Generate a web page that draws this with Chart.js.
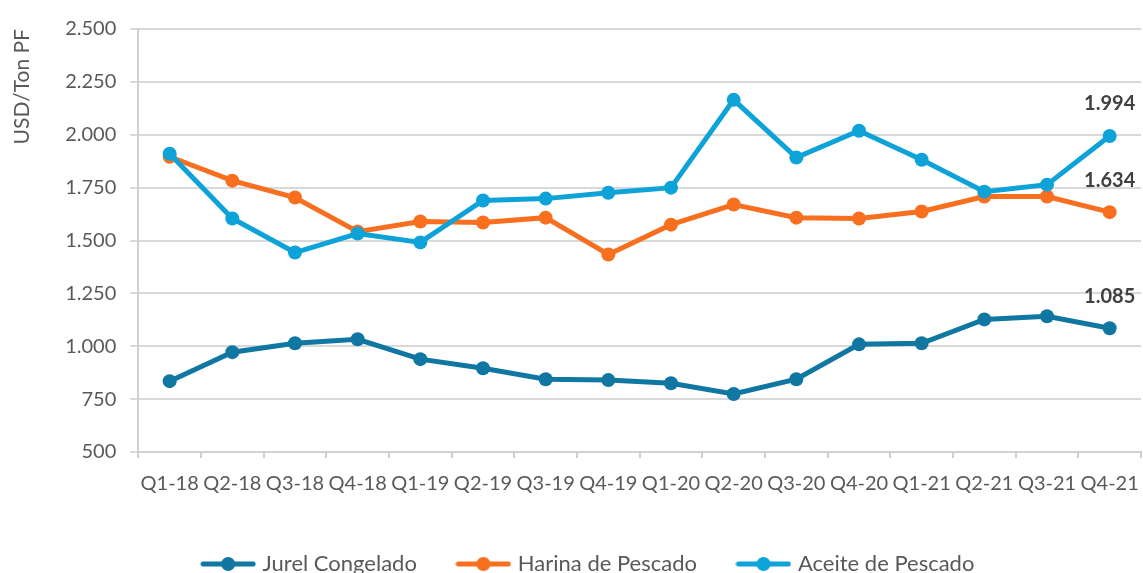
<!DOCTYPE html>
<html>
<head>
<meta charset="utf-8">
<script src="https://cdn.jsdelivr.net/npm/chart.js@4/dist/chart.umd.min.js"></script>
<style>
  html, body { margin: 0; padding: 0; background: #fff; }
  #wrap { width: 1143px; height: 573px; }
</style>
</head>
<body>
<div id="wrap"><canvas id="chart" width="1143" height="573"></canvas></div>
<script>
const quarters = ["Q1-18", "Q2-18", "Q3-18", "Q4-18", "Q1-19", "Q2-19", "Q3-19", "Q4-19",
  "Q1-20", "Q2-20", "Q3-20", "Q4-20", "Q1-21", "Q2-21", "Q3-21", "Q4-21"];

const jurel = [835, 972, 1014, 1033, 939, 896, 844, 840, 825, 774, 844, 1009, 1014, 1127, 1142, 1085];
const harina = [1896, 1783, 1703, 1542, 1590, 1585, 1608, 1434, 1575, 1670, 1608, 1604, 1637, 1708, 1708, 1634];
const aceite = [1910, 1604, 1443, 1533, 1491, 1689, 1698, 1726, 1750, 2165, 1892, 2019, 1882, 1731, 1764, 1994];

const yTicks = [500, 750, 1000, 1250, 1500, 1750, 2000, 2250, 2500];

const FONT = "Lato, 'Open Sans', sans-serif";
const colors = { jurel: "#0F77A1", harina: "#F8701F", aceite: "#0DA3D9" };

// thousands with a dot, e.g. 2.500
const fmt = v => {
  const s = String(Math.round(v));
  return s.length > 3 ? s.slice(0, -3) + "." + s.slice(-3) : s;
};

// legend marker: line with a dot in the middle
function legendMark(color) {
  const c = document.createElement("canvas");
  c.width = 56; c.height = 16;
  const g = c.getContext("2d");
  g.strokeStyle = color;
  g.lineWidth = 5;
  g.lineCap = "round";
  g.beginPath(); g.moveTo(3, 8); g.lineTo(53, 8); g.stroke();
  g.fillStyle = color;
  g.beginPath(); g.arc(28, 8, 7, 0, Math.PI * 2); g.fill();
  return c;
}

// bold label above the last point of each line
const lastLabels = {
  id: "lastLabels",
  afterDatasetsDraw(chart) {
    const ctx = chart.ctx;
    ctx.save();
    ctx.font = "bold 20px " + FONT;
    ctx.fillStyle = "#404040";
    ctx.textAlign = "center";
    ctx.textBaseline = "middle";
    chart.data.datasets.forEach((ds, i) => {
      const meta = chart.getDatasetMeta(i);
      const pt = meta.data[meta.data.length - 1];
      ctx.fillText(fmt(ds.data[ds.data.length - 1]), pt.x, pt.y - 32);
    });
    ctx.restore();
  }
};

// legend sits a little right of the canvas centre in the original
const nudgeLegend = {
  id: "nudgeLegend",
  afterLayout(chart) {
    if (chart.legend) chart.legend.left += 32;
  }
};

const mkSet = (label, data, color, order) => ({
  label, data, order,
  borderColor: color,
  backgroundColor: color,
  borderWidth: 5,
  pointRadius: 7,
  pointHoverRadius: 7,
  pointBorderWidth: 0,
  pointStyle: "circle",
  tension: 0
});

new Chart(document.getElementById("chart"), {
  type: "line",
  data: {
    labels: quarters,
    datasets: [
      mkSet("Jurel Congelado", jurel, colors.jurel, 2),
      mkSet("Harina de Pescado", harina, colors.harina, 1),
      mkSet("Aceite de Pescado", aceite, colors.aceite, 0)
    ]
  },
  options: {
    responsive: false,
    animation: false,
    layout: { autoPadding: false, padding: { top: 29, right: 2, left: 6, bottom: -12 } },
    plugins: {
      tooltip: { enabled: false },
      legend: {
        position: "bottom",
        labels: {
          usePointStyle: true,
          pointStyleWidth: 47,
          padding: 43,
          color: "#595959",
          font: { family: FONT, size: 22 },
          generateLabels(chart) {
            return chart.data.datasets.map((ds, i) => ({
              text: ds.label,
              datasetIndex: i,
              fillStyle: ds.borderColor,
              strokeStyle: ds.borderColor,
              lineWidth: 0,
              fontColor: "#595959",
              pointStyle: legendMark(ds.borderColor),
              hidden: false
            }));
          }
        }
      }
    },
    scales: {
      x: {
        offset: true,
        afterFit(scale) { scale.paddingRight = 0; },
        grid: { display: true, drawOnChartArea: false, offset: true, tickLength: 6, color: "#d0d0d0", lineWidth: 2 },
        border: { color: "#d0d0d0", width: 2 },
        ticks: {
          color: "#595959",
          font: { family: FONT, size: 20 },
          maxRotation: 0,
          autoSkip: false,
          padding: 14
        }
      },
      y: {
        min: 500,
        max: 2500,
        afterBuildTicks(axis) { axis.ticks = yTicks.map(v => ({ value: v })); },
        grid: { color: "#d9d9d9", lineWidth: 2, tickLength: 8 },
        border: { color: "#d0d0d0", width: 2 },
        title: {
          display: true,
          text: "USD/Ton PF",
          align: "end",
          color: "#595959",
          font: { family: FONT, size: 21 },
          padding: { bottom: 16 }
        },
        ticks: {
          color: "#595959",
          font: { family: FONT, size: 20 },
          padding: 14,
          callback: v => fmt(v)
        }
      }
    }
  },
  plugins: [lastLabels, nudgeLegend]
});
</script>
</body>
</html>
